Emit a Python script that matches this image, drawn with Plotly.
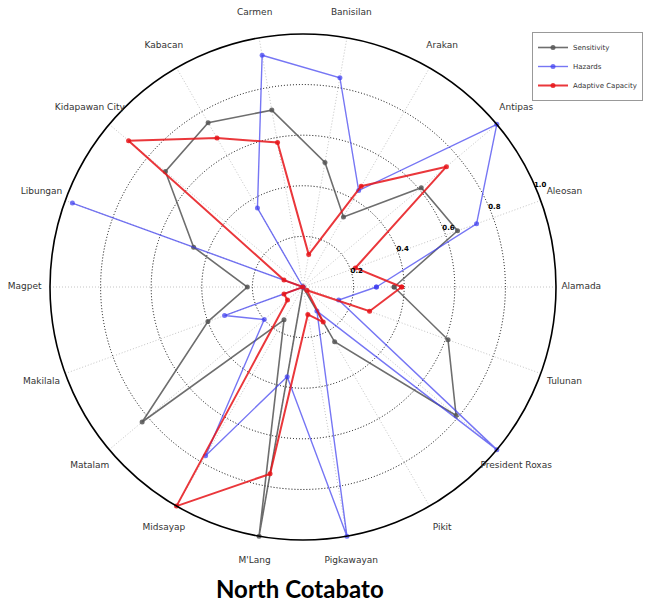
import plotly.graph_objects as go

# Municipalities, ordered counter-clockwise starting at 3 o'clock
categories = ["Alamada", "Aleosan", "Antipas", "Arakan", "Banisilan", "Carmen",
              "Kabacan", "Kidapawan City", "Libungan", "Magpet", "Makilala",
              "Matalam", "Midsayap", "M'Lang", "Pigkawayan", "Pikit",
              "President Roxas", "Tulunan"]

sensitivity = [0.36, 0.65, 0.61, 0.32, 0.50, 0.71, 0.75, 0.71, 0.46, 0.22,
               0.40, 0.83, 0.15, 1.00, 0.00, 0.25, 0.79, 0.61]
hazards = [0.29, 0.73, 1.00, 0.44, 0.84, 0.93, 0.36, 0.00, 0.97, 0.00,
           0.33, 0.20, 0.77, 0.36, 1.00, 0.11, 1.00, 0.15]
adaptive_capacity = [0.39, 0.22, 0.74, 0.46, 0.13, 0.58, 0.68, 0.90, 0.08, 0.00,
                     0.08, 0.08, 1.00, 0.75, 0.11, 0.16, 0.02, 0.28]

radial_ticks = [0.2, 0.4, 0.6, 0.8, 1.0]

series = [
    ("Sensitivity", sensitivity, "rgba(85,85,85,0.85)", 1.6),
    ("Hazards", hazards, "rgba(60,60,240,0.7)", 1.4),
    ("Adaptive Capacity", adaptive_capacity, "rgba(230,20,25,0.85)", 2.0),
]

W, H = 645, 606
CX, CY, R = 303, 287, 253      # plot centre and rim radius in pixels
LABEL_FRAC = 1.1               # category names are centred at 1.1 x rim


def domain(radius):
    return dict(x=[(CX - radius) / W, (CX + radius) / W],
                y=[1 - (CY + radius) / H, 1 - (CY - radius) / H])


fig = go.Figure()
for name, vals, color, width in series:
    fig.add_trace(go.Scatterpolar(
        r=vals + vals[:1],
        theta=categories + categories[:1],
        mode="lines+markers",
        name=name,
        line=dict(color=color, width=width),
        marker=dict(size=5, color=color),
    ))

# category names on a concentric, invisible polar frame slightly larger than the rim
fig.add_trace(go.Scatterpolar(
    r=[1.0] * len(categories),
    theta=categories,
    mode="text",
    text=categories,
    textposition="middle center",
    textfont=dict(family="DejaVu Sans", size=9, color="#333333"),
    cliponaxis=False,
    showlegend=False,
    hoverinfo="skip",
    subplot="polar2",
))

fig.update_layout(
    width=W, height=H,
    margin=dict(l=0, r=0, t=0, b=0),
    paper_bgcolor="white",
    font=dict(family="DejaVu Sans", color="#333333"),
    polar=dict(
        domain=domain(R),
        bgcolor="white",
        angularaxis=dict(
            type="category",
            rotation=0,
            direction="counterclockwise",
            showline=True, linecolor="black", linewidth=1.6,
            showgrid=True, gridcolor="#c4c4c4", griddash="1px,2px", gridwidth=1,
            ticks="", showticklabels=False,
        ),
        radialaxis=dict(
            range=[0, 1.0],
            tickvals=radial_ticks,
            ticktext=[f"{v:.1f}" for v in radial_ticks],
            angle=25,
            tickangle=25,
            showline=False,
            ticks="",
            showgrid=True, gridcolor="black", griddash="1px,2px", gridwidth=1,
            tickfont=dict(size=7, color="black", weight="bold"),
        ),
    ),
    polar2=dict(
        domain=domain(R * LABEL_FRAC),
        bgcolor="rgba(0,0,0,0)",
        angularaxis=dict(
            type="category", categoryarray=categories,
            rotation=0, direction="counterclockwise",
            showline=False, showgrid=False, ticks="", showticklabels=False,
        ),
        radialaxis=dict(range=[0, 1.0], visible=False),
    ),
    legend=dict(
        x=643 / 645, xanchor="right",
        y=1 - 32 / 606, yanchor="top",
        bgcolor="white", bordercolor="#999999", borderwidth=1,
        font=dict(size=7, color="#333333"),
        itemwidth=30, tracegroupgap=0,
    ),
    annotations=[dict(
        text="<b>North Cotabato</b>",
        x=300 / 645, y=1 - 588 / 606, xref="paper", yref="paper",
        xanchor="center", yanchor="middle", showarrow=False,
        font=dict(family="Lato", size=24, color="black"),
    )],
)

fig.write_html("out.html")
